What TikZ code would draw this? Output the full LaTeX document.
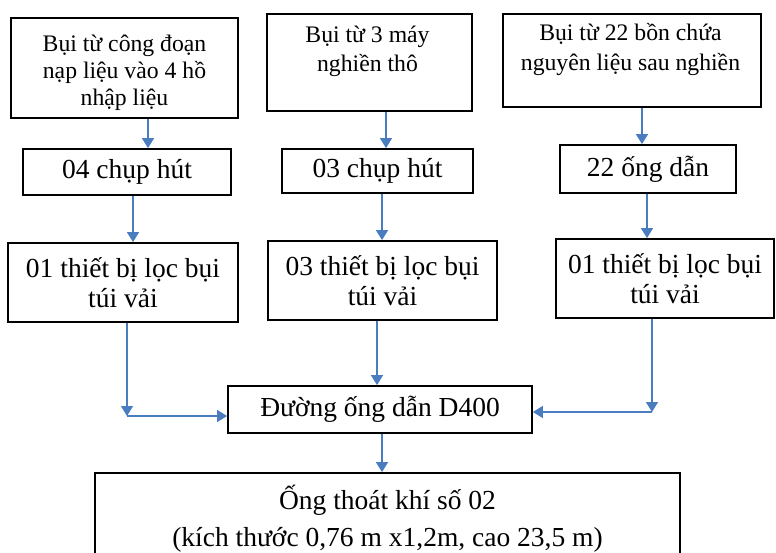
\documentclass[tikz,border=0pt]{standalone}
\usepackage{fontspec}
\setmainfont{Liberation Serif}
\usetikzlibrary{arrows.meta}
\definecolor{flowblue}{HTML}{4A7CC0}
\tikzset{
  box/.style={draw=black, line width=1.8pt, inner sep=0pt, align=center,
    font=\fontsize{27.5}{30}\selectfont},
  srctext/.style={inner sep=0pt, align=center},
  flow/.style={draw=flowblue, line width=1.5pt, -{Triangle[length=10pt,width=12pt]}},
}
\begin{document}
\begin{tikzpicture}[x=1pt,y=-1pt]
\useasboundingbox (0,0) rectangle (776,553);
\clip (0,0) rectangle (776,553);

% dust sources: frames, then their captions
\node[box, minimum width=227pt, minimum height=100pt] (s1) at (124.5,68) {};
\node[box, minimum width=205pt, minimum height=97pt] (s2) at (369.5,62.5) {};
\node[box, minimum width=258pt, minimum height=93pt] (s3) at (632,60.5) {};
\node[srctext, font=\fontsize{23.7}{27}\selectfont] (s1t) at (124.5,73)
  {Bụi từ công đoạn\\nạp liệu vào 4 hồ\\nhập liệu};
\node[srctext, font=\fontsize{23.7}{29}\selectfont] (s2t) at (367.5,51)
  {Bụi từ 3 máy\\nghiền thô};
\node[srctext, font=\fontsize{23.7}{30}\selectfont] (s3t) at (630.5,49.5)
  {Bụi từ 22 bồn chứa\\nguyên liệu sau nghiền};

% collection hoods / ducts
\node[box, minimum width=208pt, minimum height=46pt] (h1) at (127,172) {04 chụp hút};
\node[box, minimum width=191pt, minimum height=44pt] (h2) at (377.5,171) {03 chụp hút};
\node[box, minimum width=176pt, minimum height=48pt] (h3) at (648,169) {22 ống dẫn};

% bag filters
\node[box, minimum width=230pt, minimum height=79pt] (f1) at (123,282.5) {01 thiết bị lọc bụi\\túi vải};
\node[box, minimum width=229pt, minimum height=79pt] (f2) at (382.5,280.5) {03 thiết bị lọc bụi\\túi vải};
\node[box, minimum width=218pt, minimum height=79pt] (f3) at (665,278.5) {01 thiết bị lọc bụi\\túi vải};

% common duct and stack
\node[box, minimum width=304pt, minimum height=47pt] (d) at (380,409.5) {Đường ống dẫn D400};
\node[box, font=\fontsize{27.5}{37}\selectfont, minimum width=585pt, minimum height=92pt] (o) at (387.5,519)
  {Ống thoát khí số 02\\(kích thước 0,76 m x1,2m, cao 23,5 m)};

% arrow columns
\coordinate (a1) at (148,0);
\coordinate (a2) at (386,0);
\coordinate (a3) at (642,0);
\coordinate (b1) at (133,0);
\coordinate (b2) at (382,0);
\coordinate (b3) at (647,0);
\coordinate (m2) at (377,0);
\coordinate (md) at (382,0);
\coordinate (jl) at (127,416);
\coordinate (jr) at (652,412);

\draw[flow] (s1.south -| a1) -- (h1.north -| a1);
\draw[flow] (s2.south -| a2) -- (h2.north -| a2);
\draw[flow] (s3.south -| a3) -- (h3.north -| a3);
\draw[flow] (h1.south -| b1) -- (f1.north -| b1);
\draw[flow] (h2.south -| b2) -- (f2.north -| b2);
\draw[flow] (h3.south -| b3) -- (f3.north -| b3);

\draw[flow] (f1.south -| jl) -- (jl);
\draw[flow] (jl) -- (d.west |- jl);
\draw[flow] (f2.south -| m2) -- (d.north -| m2);
\draw[flow] (f3.south -| jr) -- (jr);
\draw[flow] (jr) -- (d.east |- jr);
\draw[flow] (d.south -| md) -- (o.north -| md);
\end{tikzpicture}
\end{document}
